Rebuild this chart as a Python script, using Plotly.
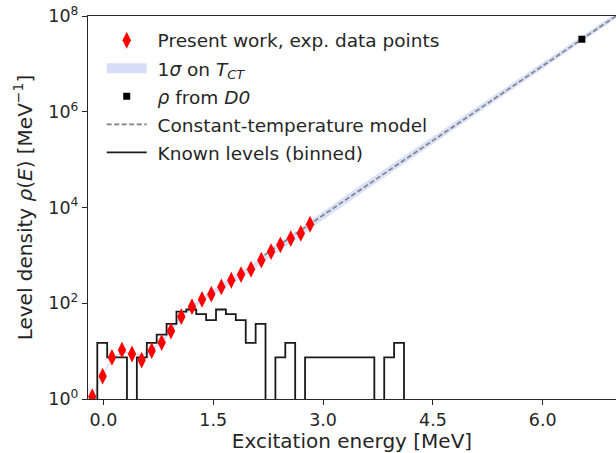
import plotly.graph_objects as go

# ---------------- data ----------------
# Experimental level density points
exp_E = [-0.152, -0.010, 0.117, 0.254, 0.391, 0.523, 0.660, 0.796, 0.923, 1.064,
         1.210, 1.347, 1.474, 1.611, 1.747, 1.880, 2.016, 2.157, 2.290, 2.417,
         2.559, 2.696, 2.822]
exp_rho = [1.12, 3.0, 7.4, 10.5, 8.7, 6.5, 10.2, 15.1, 26.3, 52.5,
           85.0, 120.0, 155.0, 219.0, 302.0, 398.0, 513.0, 794.0, 1202.0, 1660.0,
           2240.0, 2880.0, 4470.0]

# 1 sigma band on T_CT (lower / upper edges)
band_E = [-0.18, -0.15, -0.01, 0.12, 0.25, 0.39, 0.52, 0.66, 0.80, 0.92, 1.06,
          1.21, 1.35, 1.47, 1.61, 1.75, 1.88, 2.02, 2.16, 2.29, 2.42, 2.56,
          2.70, 2.82, 3.5, 4.5, 5.5, 6.5, 7.0]
band_lo = [0.95, 1.07, 3.02, 6.6, 8.9, 8.7, 7.6, 10.0, 14.6, 25.0, 46.0,
           77.0, 107.0, 140.0, 195.0, 265.0, 347.0, 457.0, 660.0, 950.0, 1320.0, 1820.0,
           2500.0, 3550.0, 19000.0, 211000.0, 2420000.0, 26800000.0, 89000000.0]
band_hi = [1.05, 1.17, 3.30, 7.2, 9.7, 9.5, 8.3, 11.0, 16.6, 28.5, 55.0,
           90.0, 130.0, 175.0, 245.0, 340.0, 455.0, 603.0, 950.0, 1380.0, 1900.0, 2620.0,
           3600.0, 5100.0, 27500.0, 295000.0, 3170000.0, 33700000.0, 112000000.0]

# Constant-temperature model
ct_E = [2.2, 3.0, 4.0, 5.0, 6.0, 7.0]
ct_rho = [1016.0, 6900.0, 75700.0, 830000.0, 9100000.0, 99800000.0]

# rho from D0
d0_E = [6.534]
d0_rho = [3.27e7]

# Known levels, binned
bin_edges = [-0.083, 0.052, 0.187, 0.322, 0.457, 0.593, 0.728, 0.863, 0.998, 1.133,
             1.268, 1.403, 1.538, 1.673, 1.808, 1.944, 2.079, 2.214, 2.349, 2.484,
             2.619, 2.754, 2.889, 3.024, 3.159, 3.295, 3.430, 3.565, 3.700, 3.835,
             3.970, 4.105, 4.240]
level_counts = [2, 1, 1, 0, 1, 2, 3, 5, 9, 10,
                8, 6, 10, 8, 6, 2, 5, 0, 1, 2,
                0, 1, 1, 1, 1, 1, 1, 1, 0, 1,
                2, 0]
bin_width = 0.1351

x_ticks = [0.0, 1.5, 3.0, 4.5, 6.0]
x_ticktext = ["0.0", "1.5", "3.0", "4.5", "6.0"]
y_ticks = [1, 1e2, 1e4, 1e6, 1e8]
y_ticktext = ["10<sup>0</sup>", "10<sup>2</sup>", "10<sup>4</sup>", "10<sup>6</sup>", "10<sup>8</sup>"]

# ---------------- figure ----------------
FONT = "DejaVu Sans"
TXT = "#262626"
NB = "\u00a0"
floor = 1e-3
dens = [c / bin_width if c > 0 else floor for c in level_counts]
hist_x = [bin_edges[0]] + bin_edges
hist_y = [floor] + dens + [floor]

fig = go.Figure()

# band
fig.add_trace(go.Scatter(x=band_E, y=band_lo, mode="lines", line=dict(width=0),
                         showlegend=False, legendgroup="g2", hoverinfo="skip"))
fig.add_trace(go.Scatter(x=band_E, y=band_hi, mode="lines", line=dict(width=0.6, color="rgba(65,105,225,0.25)"),
                         fill="tonexty", fillcolor="rgba(65,105,225,0.2)",
                         showlegend=False, legendgroup="g2", hoverinfo="skip"))
# legend patch for the band
fig.add_trace(go.Scatter(x=[None], y=[None], mode="lines",
                         line=dict(width=12, color="rgb(214,222,248)"),
                         name=NB + "1<i>σ</i> on <i>T</i><sub><i>CT</i></sub>",
                         legendgroup="g2", legendrank=2))
# CT model
fig.add_trace(go.Scatter(x=ct_E, y=ct_rho, mode="lines",
                         line=dict(color="#808080", width=1.6, dash="5px,2.5px"),
                         name=NB + "Constant-temperature model", legendgroup="g4", legendrank=4))
# histogram
fig.add_trace(go.Scatter(x=hist_x, y=hist_y, mode="lines", line_shape="hv",
                         line=dict(color="#1a1a1a", width=1.8),
                         name=NB + "Known levels (binned)", legendgroup="g5", legendrank=5))
# data
fig.add_trace(go.Scatter(x=exp_E, y=exp_rho, mode="markers",
                         marker=dict(symbol="diamond-tall", size=12, color="#ff0000", line=dict(width=0)),
                         name=NB + "Present work, exp. data points", legendgroup="g1", legendrank=1))
# D0
fig.add_trace(go.Scatter(x=d0_E, y=d0_rho, mode="markers",
                         marker=dict(symbol="square", size=7, color="#000000"),
                         name=NB + "<i>ρ</i> from <i>D0</i>", legendgroup="g3", legendrank=3))

fig.update_layout(
    width=616, height=453,
    margin=dict(l=88, r=0, t=16, b=54),
    paper_bgcolor="white", plot_bgcolor="white",
    font=dict(family=FONT, color=TXT, size=17.5),
    showlegend=True,
    legend=dict(x=0.026, y=0.985, xanchor="left", yanchor="top",
                bgcolor="rgba(0,0,0,0)", borderwidth=0,
                font=dict(family=FONT, size=18.5, color=TXT),
                tracegroupgap=1, itemwidth=40, traceorder="grouped"),
    xaxis=dict(range=[-0.21, 7.0], showline=True, linecolor=TXT, linewidth=1.25, mirror=True,
               ticks="outside", ticklen=5, tickwidth=1.25, tickcolor=TXT,
               tickvals=x_ticks, ticktext=x_ticktext, showgrid=False, zeroline=False,
               tickfont=dict(size=17.5, color=TXT), ticklabeloverflow="allow",
               title=dict(text="Excitation energy [MeV]", font=dict(size=20, color=TXT), standoff=10),
               automargin=False),
    yaxis=dict(type="log", range=[0, 8], showline=True, linecolor=TXT, linewidth=1.25,
               ticks="outside", ticklen=5, tickwidth=1.25, tickcolor=TXT,
               tickvals=y_ticks, ticktext=y_ticktext, showgrid=False, zeroline=False,
               tickfont=dict(size=17.5, color=TXT), ticklabeloverflow="allow",
               title=dict(text="Level density <i>ρ</i>(<i>E</i>) [MeV<sup>−1</sup>]",
                          font=dict(size=20, color=TXT), standoff=10),
               automargin=False),
)

# remove the browser's default 8 px page margin so the figure fills the window exactly
fig.write_html("out.html", config={"displayModeBar": False},
               post_script="document.body.style.margin='0px';document.body.style.overflow='hidden';")
